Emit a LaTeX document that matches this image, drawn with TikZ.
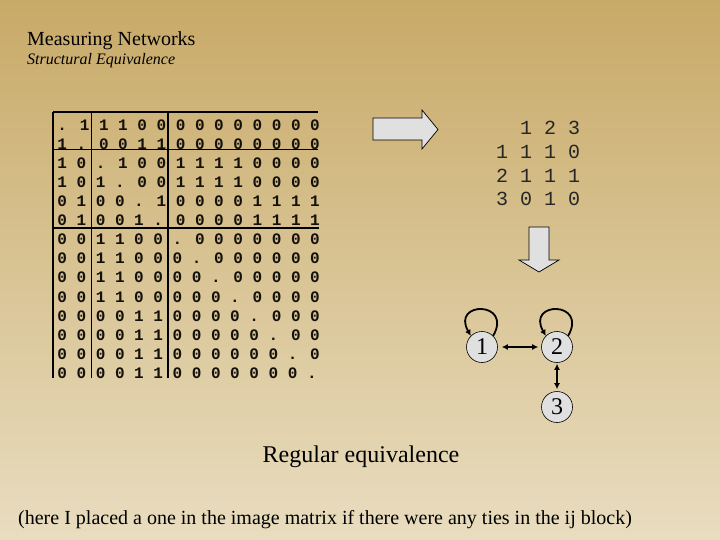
\documentclass[tikz,border=0pt]{standalone}
\usepackage{fontspec}
\setmainfont{Liberation Serif}
\newfontfamily\courfont{Liberation Mono}
\usetikzlibrary{arrows.meta}
\definecolor{bgtop}{RGB}{200,170,104}
\definecolor{bgbot}{RGB}{233,221,192}
\definecolor{boxgray}{RGB}{224,224,224}
\definecolor{inkc}{RGB}{20,16,10}
\tikzset{
  mrow/.style={anchor=base west, inner sep=0pt, font=\courfont\bfseries\fontsize{16}{16}\selectfont, text=inkc},
  irow/.style={anchor=base west, inner sep=0pt, font=\courfont\fontsize{20}{20}\selectfont, text=black!85},
  gridline/.style={line width=1.3pt, black},
  blockarrow/.style={draw=black, line width=0.7pt, fill=boxgray},
  gnode/.style={circle, draw=black, line width=0.6pt, fill=boxgray, minimum size=31pt, inner sep=0pt, font=\fontsize{24}{24}\selectfont},
  tie/.style={line width=1.8pt, {Latex[length=6pt,width=6pt]}-{Latex[length=6pt,width=6pt]}},
  selfloop/.style={line width=1.8pt, -{Latex[length=6pt,width=6pt]}},
  txt/.style={inner sep=0pt, text=black}
}
\begin{document}
\begin{tikzpicture}[x=1pt,y=-1pt]
\useasboundingbox (0,0) rectangle (720,540);
\shade[top color=bgtop, bottom color=bgbot] (0,0) rectangle (720,540);
% titles
\node[txt, anchor=base west, font=\fontsize{20}{20}\selectfont] (title) at (27,46) {Measuring Networks};
\node[txt, anchor=base west, font=\itshape\fontsize{16}{16}\selectfont] (subtitle) at (27,65) {Structural Equivalence};
% big matrix
\foreach \r/\s in {1/{. 1 1 1 0 0 0 0 0 0 0 0 0 0},
                   2/{1 . 0 0 1 1 0 0 0 0 0 0 0 0},
                   3/{1 0 . 1 0 0 1 1 1 1 0 0 0 0},
                   4/{1 0 1 . 0 0 1 1 1 1 0 0 0 0},
                   5/{0 1 0 0 . 1 0 0 0 0 1 1 1 1},
                   6/{0 1 0 0 1 . 0 0 0 0 1 1 1 1},
                   7/{0 0 1 1 0 0 . 0 0 0 0 0 0 0},
                   8/{0 0 1 1 0 0 0 . 0 0 0 0 0 0},
                   9/{0 0 1 1 0 0 0 0 . 0 0 0 0 0},
                   10/{0 0 1 1 0 0 0 0 0 . 0 0 0 0},
                   11/{0 0 0 0 1 1 0 0 0 0 . 0 0 0},
                   12/{0 0 0 0 1 1 0 0 0 0 0 . 0 0},
                   13/{0 0 0 0 1 1 0 0 0 0 0 0 . 0},
                   14/{0 0 0 0 1 1 0 0 0 0 0 0 0 .}}
  \node[mrow] (r\r) at (57.2,{130.3+(\r-1)*19.08}) {\s};
% block lines
\draw[gridline] (53,112) -- (318,112);
\draw[gridline] (53,149.5) -- (318,149.5);
\draw[gridline] (53,228) -- (319,228);
\draw[gridline] (53,112) -- (53,378);
\draw[gridline] (91.3,112) -- (91.3,378);
\draw[gridline] (168,112) -- (168,378);
% right block arrow
\draw[blockarrow] (373,118) -- (422,118) -- (422,110) -- (438,129.5) -- (422,149) -- (422,140) -- (373,140) -- cycle;
% image matrix
\node[irow] (ih) at (520,135) {1 2 3};
\node[irow] (i1) at (496,159) {1 1 1 0};
\node[irow] (i2) at (496,183) {2 1 1 1};
\node[irow] (i3) at (496,206) {3 0 1 0};
% down block arrow
\draw[blockarrow] (529,227) -- (549,227) -- (549,260) -- (559,260) -- (539,272) -- (519,260) -- (529,260) -- cycle;
% graph
\node[gnode] (n1) at (482,347) {1};
\node[gnode] (n2) at (557,347) {2};
\node[gnode] (n3) at (557,407) {3};
\draw[tie, shorten <=4pt, shorten >=3pt] (n1) -- (n2);
\draw[tie, shorten <=1pt, shorten >=2pt] (n2) -- (n3);
\draw[selfloop] (n1.45) .. controls +(20,-35) and +(-20,-35) .. (n1.135);
\draw[selfloop] (n2.45) .. controls +(20,-35) and +(-20,-35) .. (n2.135);
% captions
\node[txt, anchor=base, font=\fontsize{24}{24}\selectfont] (cap) at (361,462) {Regular equivalence};
\node[txt, anchor=base west, font=\fontsize{20}{20}\selectfont] (note) at (18,524) {(here I placed a one in the image matrix if there were any ties in the ij block)};
\end{tikzpicture}
\end{document}
